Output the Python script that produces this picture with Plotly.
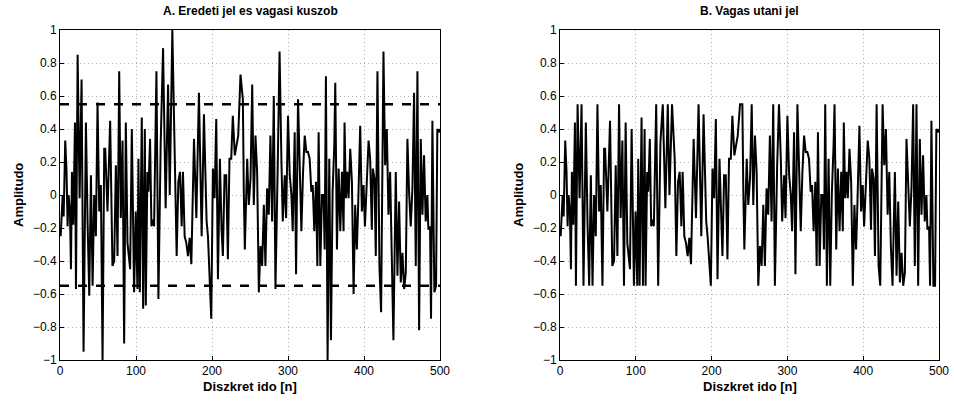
"""Eredeti jel es vagasi kuszob - clipping demo, two panels."""
import numpy as np
import plotly.graph_objects as go

# discrete time of the read-off vertices of the original signal
n_idx = [0.9, 3.5, 4.8, 6.9, 8.6, 10.0, 11.3, 13.1, 14.4, 15.7, 17.5, 19.7, 21.0, 23.2, 25.8,
         28.4, 31.0, 34.1, 36.3, 38.5, 40.7, 42.9, 45.0, 47.2, 49.4, 51.6, 53.8, 56.0, 58.2,
         59.5, 62.5, 66.0, 69.0, 71.3, 73.5, 75.7, 77.9, 80.0, 82.3, 84.4, 86.6, 88.8, 92.3,
         94.5, 97.5, 99.7, 101.9, 103.2, 105.0, 107.6, 109.4, 111.6, 112.9, 115.0, 116.4, 118.5,
         120.3, 122.5, 123.8, 126.9, 129.5, 132.5, 135.6, 139.0, 142.2, 144.4, 147.8, 151.3,
         153.5, 155.7, 157.9, 160.1, 161.8, 164.0, 166.2, 168.4, 170.6, 172.8, 176.3, 179.4,
         182.8, 186.4, 189.4, 192.9, 194.7, 199.0, 201.2, 203.4, 205.6, 207.8, 210.4, 212.6,
         214.3, 216.5, 218.7, 220.9, 223.0, 225.3, 227.4, 230.0, 232.3, 234.5, 237.5, 240.6,
         241.9, 243.2, 246.3, 248.4, 250.7, 252.9, 255.0, 257.2, 259.4, 261.6, 263.8, 266.0,
         268.2, 270.3, 272.5, 274.7, 276.9, 279.1, 281.3, 283.5, 286.5, 288.9, 291.3, 293.1,
         295.7, 297.5, 300.0, 302.3, 304.5, 306.2, 308.8, 310.6, 313.2, 315.4, 317.6, 319.8,
         322.0, 324.2, 326.3, 328.5, 330.7, 332.5, 334.6, 336.8, 338.6, 340.3, 342.5, 344.7,
         346.9, 348.2, 349.9, 352.1, 354.3, 356.5, 358.7, 360.9, 362.2, 364.4, 366.6, 368.8,
         371.0, 373.1, 374.4, 376.2, 378.0, 379.7, 381.9, 384.1, 386.3, 388.4, 390.6, 392.0,
         395.0, 397.2, 399.4, 401.2, 402.9, 404.6, 406.0, 408.1, 410.3, 411.6, 413.8, 415.5,
         417.7, 420.3, 422.5, 425.6, 427.8, 430.0, 432.2, 434.4, 436.5, 438.7, 441.8, 444.0,
         446.2, 448.4, 450.6, 452.8, 455.0, 457.1, 459.3, 461.5, 463.7, 465.9, 468.1, 470.3,
         472.5, 474.7, 476.9, 479.0, 481.2, 483.4, 484.7, 486.9, 488.2, 490.0, 492.6, 494.8,
         496.5, 498.7, 500.0]

amp = [-0.25, 0.00, -0.13, 0.33, 0.14, -0.19, 0.00, -0.10, -0.45, 0.14, -0.18, 0.44, -0.57, 0.85, -0.02,
       0.70, -0.95, 0.44, -0.17, -0.61, 0.12, -0.55, 0.00, -0.25, 0.56, -0.10, 0.06, -1.00, 0.28,
       0.28, -0.10, 0.45, -0.43, -0.40, 0.18, -0.37, 0.75, -0.14, 0.33, -0.90, 0.44, -0.29, -0.45,
       0.40, -0.59, -0.10, -0.57, 0.22, -0.59, 0.47, -0.69, 0.40, -0.67, 0.14, 0.02, 0.34,
       -0.19, -0.15, -0.19, 0.75, -0.63, 0.32, 0.89, -0.08, 0.67, 0.00, 1.00, 0.22,
       -0.37, 0.08, 0.14, -0.19, 0.14, -0.25, -0.29, -0.37, -0.26, -0.42, 0.34, -0.14,
       0.62, -0.25, 0.49, -0.16, -0.25, -0.75, 0.16, -0.02, 0.46, -0.51, 0.22, -0.21,
       -0.37, 0.12, 0.12, -0.39, 0.22, 0.22, 0.48, 0.24, 0.30, 0.36, 0.73, 0.58,
       0.00, -0.33, 0.22, -0.06, 0.10, 0.67, -0.06, 0.36, 0.14, -0.59, -0.31, -0.43,
       -0.06, -0.43, 0.04, -0.12, 0.36, -0.16, 0.60, -0.57, 0.18, 0.87, 0.22, -0.16,
       0.12, -0.14, 0.48, 0.12, 0.00, -0.22, 0.38, -0.48, 0.58, 0.14, -0.22, 0.14,
       0.36, 0.26, 0.26, 0.22, 0.02, 0.06, -0.22, 0.08, -0.43, 0.38, -0.43, 0.00,
       0.00, -0.33, 0.72, -1.00, 0.22, -0.88, 0.02, 0.30, 0.68, -0.33, 0.16, -0.22,
       0.14, -0.22, 0.44, -0.02, 0.14, -0.02, 0.28, 0.08, -0.60, -0.06, -0.33, -0.12,
       0.42, -0.10, 0.06, -0.19, 0.04, 0.22, 0.33, 0.22, -0.21, 0.16, 0.10, -0.37,
       0.75, -0.43, -0.71, 0.87, 0.18, 0.40, -0.12, 0.14, -0.31, -0.88, 0.14, -0.49,
       -0.04, -0.53, -0.35, -0.57, -0.47, 0.34, 0.02, -0.19, 0.04, 0.62, -0.43, 0.75,
       -0.82, 0.34, -0.12, 0.24, -0.16, 0.00, -0.21, -0.19, -0.75, 0.45, -0.59, -0.55,
       0.40, 0.38, 0.40]

threshold = 0.55
x_ticks = [0, 100, 200, 300, 400, 500]
y_ticks = [-1, -0.8, -0.6, -0.4, -0.2, 0, 0.2, 0.4, 0.6, 0.8, 1]
y_tick_text = ["\u22121", "\u22120.8", "\u22120.6", "\u22120.4", "\u22120.2", "0",
               "0.2", "0.4", "0.6", "0.8", "1"]

titles = ["A. Eredeti jel es vagasi kuszob", "B. Vagas utani jel"]
x_title = "Diszkret ido [n]"
y_title = "Amplitudo"

W, H = 954, 401
FONT = "Liberation Sans, Arial, sans-serif"

clipped = np.clip(np.array(amp), -threshold, threshold)

fig = go.Figure()
fig.add_trace(go.Scatter(x=n_idx, y=amp, mode="lines", line=dict(color="black", width=2),
                         xaxis="x", yaxis="y", showlegend=False))
for lvl in (threshold, -threshold):
    fig.add_trace(go.Scatter(x=[0, 500], y=[lvl, lvl], mode="lines",
                             line=dict(color="black", width=2.5, dash="dash"),
                             xaxis="x", yaxis="y", showlegend=False))
fig.add_trace(go.Scatter(x=n_idx, y=clipped, mode="lines", line=dict(color="black", width=2),
                         xaxis="x2", yaxis="y2", showlegend=False))

# pixel boxes of the two axes
ML, MR, MT, MB = 60, 15, 30, 41
PW = W - ML - MR
PH = H - MT - MB
boxes = [(60, 440), (560, 939)]

axis_common = dict(showline=True, mirror=True, linecolor="black", linewidth=1,
                   ticks="inside", ticklen=4, tickcolor="black", zeroline=False,
                   showgrid=True, gridcolor="#b0b0b0", griddash="1px,3px", gridwidth=1,
                   automargin=False,
                   tickfont=dict(family=FONT, size=12, color="black"))

layout = dict(width=W, height=H, margin=dict(l=ML, r=MR, t=MT, b=MB),
              paper_bgcolor="white", plot_bgcolor="white",
              font=dict(family=FONT, size=12, color="black"), annotations=[])


def px_x(x):
    return (x - ML) / PW


def px_y(y):
    return (H - y - MB) / PH


for i, (x0, x1) in enumerate(boxes):
    sfx = "" if i == 0 else str(i + 1)
    layout["xaxis" + sfx] = dict(axis_common, domain=[px_x(x0), px_x(x1)],
                                 range=[0, 500], tickvals=x_ticks, anchor="y" + sfx)
    layout["yaxis" + sfx] = dict(axis_common, domain=[0, 1], range=[-1, 1], tickvals=y_ticks,
                                 ticktext=y_tick_text, anchor="x" + sfx)
    cx = (x0 + x1) / 2
    layout["annotations"] += [
        dict(text="<b>" + titles[i] + "</b>", x=px_x(cx), y=px_y(11), xref="paper", yref="paper",
             showarrow=False, font=dict(family=FONT, size=12), xanchor="center", yanchor="middle"),
        dict(text="<b>" + x_title + "</b>", x=px_x(cx), y=px_y(386), xref="paper", yref="paper",
             showarrow=False, font=dict(family=FONT, size=13), xanchor="center", yanchor="middle"),
        dict(text="<b>" + y_title + "</b>", x=px_x(x0 - 42), y=px_y(195), xref="paper",
             yref="paper", showarrow=False, textangle=-90, font=dict(family=FONT, size=13),
             xanchor="center", yanchor="middle"),
    ]

fig.update_layout(**layout)
# drop the default page margin so the figure sits at the window corner
fig.write_html("out.html", config={"displayModeBar": False},
               post_script="document.body.style.margin='0';")
